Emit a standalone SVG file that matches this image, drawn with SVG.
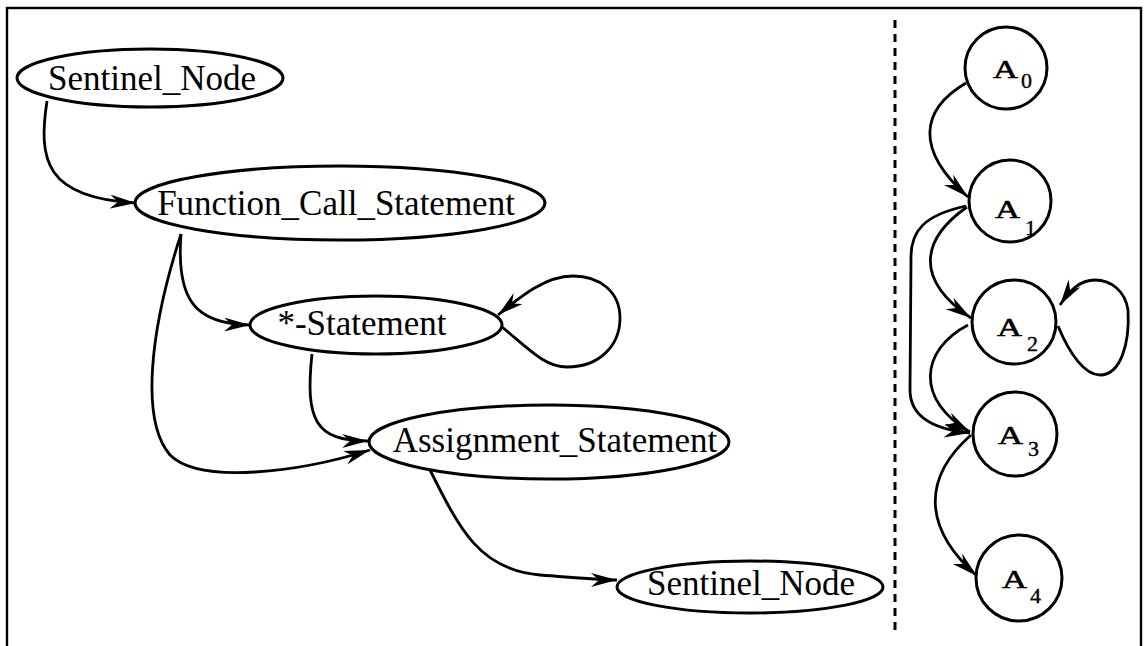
<svg xmlns="http://www.w3.org/2000/svg" width="1147" height="646" viewBox="0 0 1147 646">
<defs>
<style>
.node{fill:#fff;stroke:#000;stroke-width:3}
.lbl{font-family:"Liberation Serif","Times New Roman",serif;font-size:35px;fill:#000;text-anchor:middle}
.al{font-family:"Liberation Serif","Times New Roman",serif;font-size:26px;fill:#000;stroke:#000;stroke-width:0.6}
.sub{font-family:"Liberation Serif","Times New Roman",serif;font-size:22px;fill:#000;stroke:#000;stroke-width:0.4}
.edge{fill:none;stroke:#000;stroke-width:2.8;marker-end:url(#arr)}
</style>
<marker id="arr" markerUnits="userSpaceOnUse" markerWidth="28" markerHeight="16" refX="26" refY="7" orient="auto">
<path d="M0,0 L26,7 L0,14 L8,7 z" fill="#000"/>
</marker>
</defs>
<rect x="0" y="0" width="1147" height="646" fill="#fff"/>
<rect x="7" y="8" width="1134" height="660" fill="none" stroke="#000" stroke-width="2.4"/>
<line x1="895" y1="20" x2="895" y2="636" stroke="#000" stroke-width="3" stroke-dasharray="8 6"/>

<g id="connectors">
<path class="edge" d="M47,101 C38,160 45,198 136,203"/>
<path class="edge" d="M181,234 C176,300 195,324 250,325"/>
<path class="edge" d="M181,234 C150,330 140,420 170,455 C200,485 300,472 370,450"/>
<path class="edge" d="M312,354 C305,420 315,441 368,441"/>
<path class="edge" d="M502,327 C530,350 545,367 567,367 C600,367 620,345 620,318 C620,292 600,276 573,276 C545,276 520,297 498,315"/>
<path class="edge" d="M430,470 C460,530 480,570 540,575 C580,578 600,580 617,580"/>
<path class="edge" d="M966,83 C920,110 915,150 968,197"/>
<path class="edge" d="M967,207 C920,240 915,280 971,318"/>
<path class="edge" d="M966,206 C925,215 910,230 911,260 L910,390 C910,420 940,430 970,433"/>
<path class="edge" d="M968,325 C920,350 915,400 970,432"/>
<path class="edge" d="M971,435 C920,480 925,530 977,576"/>
<path class="edge" d="M1058,326 C1070,355 1085,375 1100,375 C1120,375 1130,345 1128,310 C1125,290 1110,280 1095,280 C1080,280 1070,290 1060,305"/>
</g>

<g id="sentinel_top"><ellipse class="node" cx="150" cy="78" rx="133" ry="29"/><text class="lbl" x="152" y="90">Sentinel_Node</text></g>
<g id="function_call"><ellipse class="node" cx="340" cy="203" rx="205" ry="37"/><text class="lbl" x="336" y="215">Function_Call_Statement</text></g>
<g id="star_statement"><ellipse class="node" cx="376" cy="325" rx="126" ry="29"/><text class="lbl" x="362" y="335">*-Statement</text></g>
<g id="assignment"><ellipse class="node" cx="549" cy="442" rx="180" ry="37"/><text class="lbl" x="555" y="452">Assignment_Statement</text></g>
<g id="sentinel_bottom"><ellipse class="node" cx="750" cy="587" rx="133" ry="26"/><text class="lbl" x="751" y="595">Sentinel_Node</text></g>

<g id="A0"><circle class="node" cx="1006" cy="68" r="41"/><text class="al" x="993" y="78" textLength="25" lengthAdjust="spacingAndGlyphs">A</text><text class="sub" x="1021" y="88">0</text></g>
<g id="A1"><circle class="node" cx="1010" cy="201" r="41"/><text class="al" x="995" y="218" textLength="25" lengthAdjust="spacingAndGlyphs">A</text><text class="sub" x="1025" y="235">1</text></g>
<g id="A2"><circle class="node" cx="1014" cy="322" r="42"/><text class="al" x="997" y="336" textLength="25" lengthAdjust="spacingAndGlyphs">A</text><text class="sub" x="1027" y="351">2</text></g>
<g id="A3"><circle class="node" cx="1015" cy="434" r="42"/><text class="al" x="998" y="444" textLength="25" lengthAdjust="spacingAndGlyphs">A</text><text class="sub" x="1028" y="456">3</text></g>
<g id="A4"><circle class="node" cx="1019" cy="578" r="43"/><text class="al" x="1002" y="588" textLength="25" lengthAdjust="spacingAndGlyphs">A</text><text class="sub" x="1030" y="603">4</text></g>
</svg>
